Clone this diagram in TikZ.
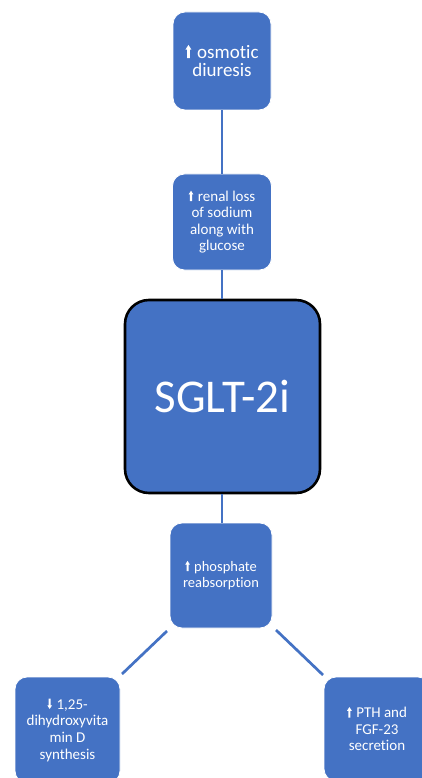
\documentclass[tikz,border=0pt]{standalone}
\usepackage{fontspec}
\setmainfont{Carlito}[RawFeature={-liga}]
\definecolor{boxblue}{HTML}{4472C4}
% narrow heavy arrows drawn in the current text size
\tikzset{arrglyph/.style={sharp corners, draw=none, fill=white}}
\newcommand{\uparr}{\tikz[baseline=0pt,x=1em,y=1em]\path[arrglyph]
  (-0.07,0) -- (-0.07,0.45) -- (-0.16,0.45) -- (0,0.70) -- (0.16,0.45)
  -- (0.07,0.45) -- (0.07,0) -- cycle;\hspace{0.3em}}
\newcommand{\downarr}{\tikz[baseline=0pt,x=1em,y=1em]\path[arrglyph]
  (-0.07,0.70) -- (-0.07,0.25) -- (-0.16,0.25) -- (0,0) -- (0.16,0.25)
  -- (0.07,0.25) -- (0.07,0.70) -- cycle;\hspace{0.3em}}
\tikzset{
  stepbox/.style={rectangle, rounded corners=12pt, fill=boxblue, draw=white,
    line width=0.8pt, text=white, align=center, inner sep=0pt},
  hubbox/.style={rectangle, rounded corners=24pt, fill=boxblue, draw=black,
    line width=2.6pt, text=white, align=center, inner sep=0pt},
  link/.style={draw=boxblue, line width=2.7pt}
}
\begin{document}
\begin{tikzpicture}[x=1pt, y=-1pt]
\useasboundingbox (0,0) rectangle (422,778);
\clip (0,0) rectangle (422,778);
\fill[white] (0,0) rectangle (422,778);

% boxes
\node[stepbox, minimum width=98pt, minimum height=98pt,
  font=\fontsize{19}{18.7}\selectfont] (osm) at (222,61)
  {\uparr osmotic\\diuresis};
\node[stepbox, minimum width=99pt, minimum height=96pt,
  font=\fontsize{15}{16.5}\selectfont] (ren) at (222,222)
  {\uparr renal loss\\of sodium\\along with\\glucose};
\node[hubbox, minimum width=195pt, minimum height=193pt,
  font=\fontsize{47}{50}\selectfont] (sglt) at (222.5,396.5)
  {SGLT-2i};
\node[stepbox, minimum width=102pt, minimum height=105pt,
  font=\fontsize{14.5}{16.7}\selectfont] (pho) at (221,575.5)
  {\uparr phosphate\\reabsorption};
\node[stepbox, minimum width=105pt, minimum height=106pt,
  font=\fontsize{15}{16.7}\selectfont] (vitd) at (67.5,730)
  {\downarr 1,25-\\dihydroxyvita\\min D\\synthesis};
\node[stepbox, minimum width=106pt, minimum height=104pt,
  font=\fontsize{15}{16.7}\selectfont] (pth) at (377,729)
  {\uparr PTH and\\FGF-23\\secretion};

% vertical connectors
\draw[link] (osm.south) -- (ren.north);
\draw[link] (ren.south) -- (ren.south |- sglt.north);
\draw[link] (sglt.north |- sglt.south) ++(-0.5,0) coordinate (sb) -- (sb |- pho.north);

% diagonal connectors
\coordinate (dl1) at (167,631);
\coordinate (dl2) at (122,674);
\coordinate (dr1) at (276,630);
\coordinate (dr2) at (323,675);
\draw[link] (dl1) -- (dl2);
\draw[link] (dr1) -- (dr2);
\end{tikzpicture}
\end{document}
